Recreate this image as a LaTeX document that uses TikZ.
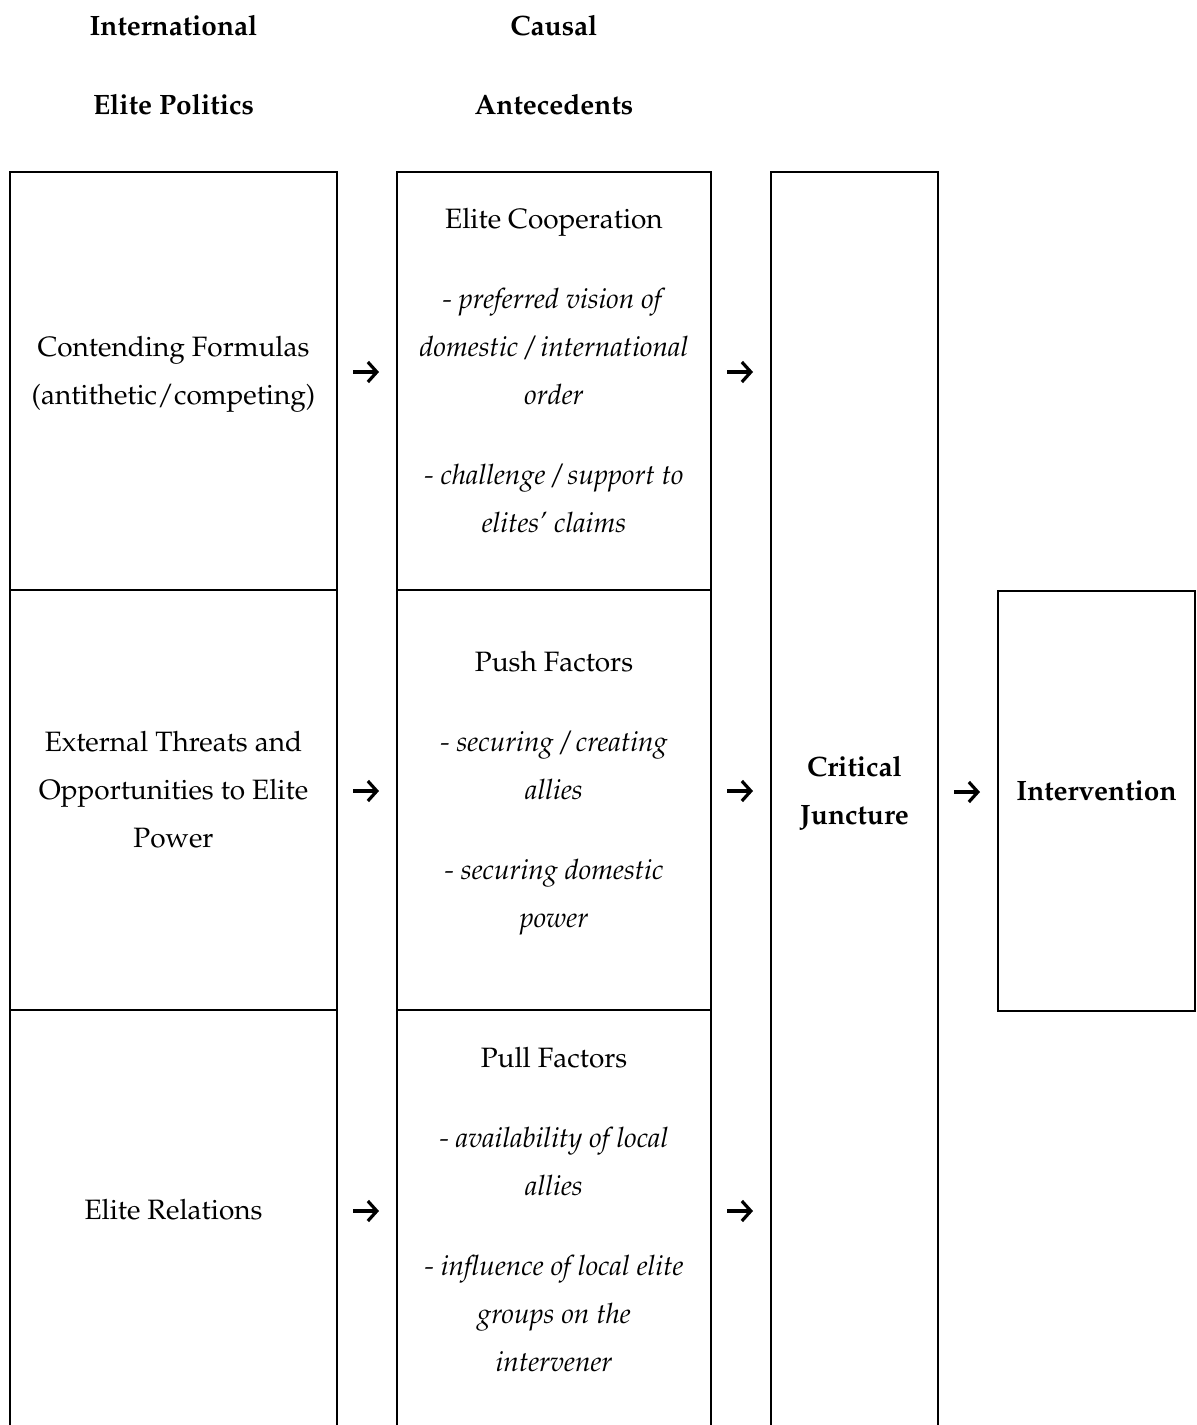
\documentclass[tikz,border=0pt]{standalone}
\usepackage[T1]{fontenc}
\usepackage{mathpazo}
\usetikzlibrary{arrows.meta, positioning, calc}

\begin{document}
\begin{tikzpicture}[
    node distance=0pt and 30pt,
    cell/.style={rectangle, draw, line width=1pt, outer sep=0pt, inner sep=0pt, align=center,
        font=\fontsize{14}{24}\selectfont,
        execute at end node={\rule[-10.3pt]{0pt}{1pt}}},
    head/.style={align=center, inner sep=0pt, font=\fontsize{14}{24}\selectfont\bfseries,
        execute at begin node=\strut, execute at end node=\strut},
    arrow/.style={-{Straight Barb[length=4.5pt, width=10pt]}, line width=1.6pt},
]
    \useasboundingbox (0,0) rectangle (598pt,-712.5pt);

    % International elite politics
    \node[cell, minimum width=163.5pt, minimum height=209pt, anchor=north west] (formulas) at (5pt,-86pt) {Contending Formulas\\(antithetic/competing)};
    \node[cell, minimum width=163.5pt, minimum height=210pt, below=of formulas] (threats) {External Threats and\\Opportunities to Elite\\Power};
    \node[cell, minimum width=163.5pt, minimum height=210pt, below=of threats] (relations) {Elite Relations};

    % Causal antecedents
    \node[cell, minimum width=157pt, minimum height=209pt, right=of formulas] (cooperation) {Elite Cooperation\\[16pt]\textit{- preferred vision of}\\\textit{domestic / international}\\\textit{order}\\[16pt]\textit{- challenge / support to}\\\textit{elites' claims}};
    \node[cell, minimum width=157pt, minimum height=210pt, right=of threats] (push) {Push Factors\\[16pt]\textit{- securing / creating}\\\textit{allies}\\[16pt]\textit{- securing domestic}\\\textit{power}};
    \node[cell, minimum width=157pt, minimum height=210pt, right=of relations] (pull) {Pull Factors\\[16pt]\textit{- availability of local}\\\textit{allies}\\[16pt]\textit{- influence of local elite}\\\textit{groups on the}\\\textit{intervener}};

    % Juncture and outcome
    \node[cell, minimum width=83.5pt, minimum height=629pt, right=of cooperation.north east, anchor=north west] (juncture) {\textbf{Critical}\\\textbf{Juncture}};
    \node[cell, minimum width=98.5pt, minimum height=210pt, right=of juncture] (intervention) {\textbf{Intervention}};

    % Headings
    \node[head, above=21.3pt of formulas] (elitehead) {International\\[15.5pt]Elite Politics};
    \node[head, above=21.3pt of cooperation] (causalhead) {Causal\\[15.5pt]Antecedents};

    % Arrows
    \draw[arrow] ($(formulas.east)+(8pt,4.5pt)$) -- ($(cooperation.west)+(-9pt,4.5pt)$);
    \draw[arrow] ($(threats.east)+(8pt,4.5pt)$) -- ($(push.west)+(-9pt,4.5pt)$);
    \draw[arrow] ($(relations.east)+(8pt,4.5pt)$) -- ($(pull.west)+(-9pt,4.5pt)$);
    \draw[arrow] ($(cooperation.east)+(8pt,4.5pt)$) -- ($(cooperation.east -| juncture.west)+(-9pt,4.5pt)$);
    \draw[arrow] ($(push.east)+(8pt,4.5pt)$) -- ($(push.east -| juncture.west)+(-9pt,4.5pt)$);
    \draw[arrow] ($(pull.east)+(8pt,4.5pt)$) -- ($(pull.east -| juncture.west)+(-9pt,4.5pt)$);
    \draw[arrow] ($(juncture.east |- intervention.west)+(8pt,4.5pt)$) -- ($(intervention.west)+(-9pt,4.5pt)$);
\end{tikzpicture}
\end{document}
